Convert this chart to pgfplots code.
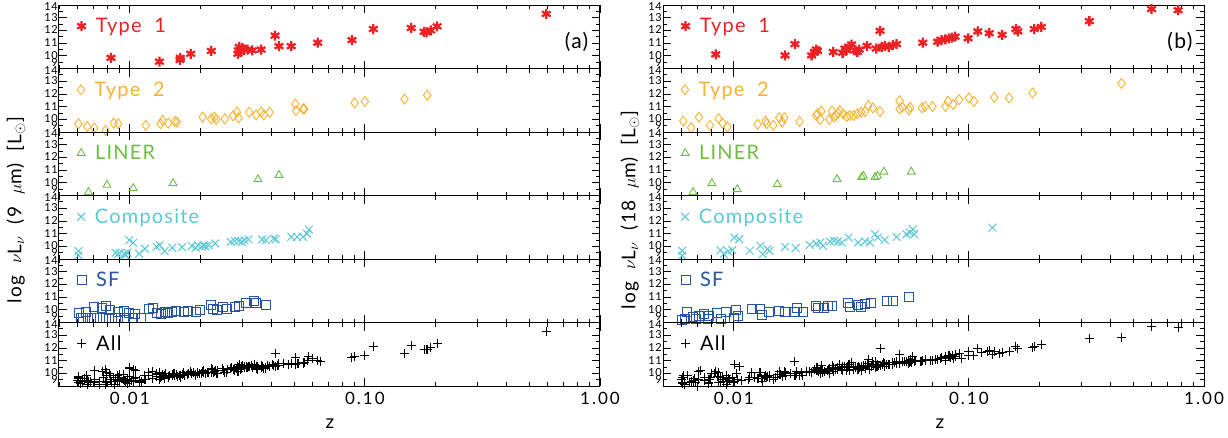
\documentclass[border=0pt]{standalone}
\usepackage{pgfplots}
\pgfplotsset{compat=1.18}
\usepackage{pgfplotstable}
\usepackage{fontspec}
\setmainfont{Lato}[LetterSpace=6]
\newfontfamily\wide{Lato}[LetterSpace=12]
\definecolor{cTa}{RGB}{237,32,36}
\definecolor{cTb}{RGB}{246,178,51}
\definecolor{cLi}{RGB}{110,190,68}
\definecolor{cCo}{RGB}{91,200,214}
\definecolor{cSF}{RGB}{40,84,166}

\pgfplotstableread{
z v
0.00832 9.84
0.01337 9.54
0.01637 9.68
0.01640 9.84
0.01816 10.16
0.02223 10.38
0.02884 10.16
0.02900 10.43
0.02920 10.70
0.02960 10.30
0.03010 10.62
0.03070 10.50
0.03170 10.49
0.03320 10.43
0.03620 10.49
0.04150 11.59
0.04310 10.76
0.04860 10.76
0.06300 11.03
0.08810 11.24
0.10860 12.11
0.15740 12.19
0.17860 11.89
0.18300 11.85
0.19050 12.00
0.20280 12.32
0.59100 13.30
}\TaA
\pgfplotstableread{
z v
0.00605 9.65
0.00659 9.44
0.00706 9.31
0.00789 9.13
0.00855 9.70
0.00893 9.65
0.01170 9.52
0.01352 9.65
0.01380 9.91
0.01459 9.70
0.01556 9.83
0.01590 9.78
0.02040 10.17
0.02220 10.04
0.02290 10.17
0.02330 9.99
0.02540 10.04
0.02750 10.28
0.02860 10.56
0.02900 10.12
0.03220 10.56
0.03450 10.35
0.03620 10.56
0.03720 10.35
0.03940 10.56
0.05060 11.21
0.05090 10.69
0.05460 10.82
0.05520 10.82
0.09040 11.29
0.10000 11.40
0.14750 11.59
0.18410 11.90
}\TbA
\pgfplotstableread{
z v
0.00667 9.26
0.00800 9.83
0.01035 9.57
0.01528 9.96
0.03510 10.27
0.04310 10.61
}\LiA
\pgfplotstableread{
z v
0.00605 9.63
0.00605 9.29
0.00871 9.49
0.00887 9.36
0.00905 9.49
0.00951 9.42
0.00977 9.49
0.00958 9.29
0.00995 10.48
0.01035 10.28
0.01096 9.42
0.01159 9.81
0.01300 9.96
0.01342 10.09
0.01406 9.63
0.01518 9.89
0.01668 9.94
0.01836 10.02
0.01907 9.89
0.01945 10.07
0.02020 9.96
0.02060 10.07
0.02099 10.02
0.02163 10.07
0.02308 10.22
0.02690 10.35
0.02798 10.41
0.02905 10.41
0.02995 10.35
0.03076 10.48
0.03196 10.54
0.03655 10.54
0.03797 10.48
0.04099 10.61
0.04178 10.54
0.04864 10.74
0.05152 10.74
0.05458 10.74
0.05675 11.00
0.05782 11.32
}\CoA
\pgfplotstableread{
z v
0.00605 9.72
0.00617 9.38
0.00653 9.85
0.00706 10.25
0.00762 10.12
0.00791 10.30
0.00822 9.98
0.00887 9.80
0.00940 9.93
0.00995 9.72
0.01054 9.64
0.01117 9.38
0.00630 9.33
0.00667 9.33
0.00706 9.33
0.00747 9.33
0.00791 9.33
0.00838 9.33
0.00887 9.33
0.00958 9.33
0.01035 9.33
0.01205 10.04
0.01254 10.12
0.01300 9.77
0.01352 9.64
0.01406 9.85
0.01460 9.72
0.01518 9.85
0.01575 9.90
0.01701 9.85
0.01767 9.93
0.01907 9.85
0.01981 9.98
0.02223 10.38
0.02265 10.04
0.02354 9.98
0.02493 10.19
0.02591 10.04
0.02798 10.25
0.02905 10.30
0.03135 10.51
0.03388 10.72
0.03453 10.56
0.03797 10.38
}\SFA
\pgfplotstableread{
z v
0.0060 9.45
0.0062 9.20
0.0064 9.60
0.0066 9.10
0.0068 9.35
0.0071 9.50
0.0074 9.15
0.0077 9.70
0.0080 9.25
0.0083 9.55
0.0086 9.10
0.0090 9.40
0.0094 9.60
0.0098 9.20
0.0102 9.45
0.0106 9.70
0.0110 9.30
0.0115 9.55
0.0120 9.80
0.0125 9.60
0.0130 9.90
0.0136 9.75
0.0142 9.95
0.0148 9.80
0.0155 10.00
0.0162 9.85
0.0170 10.05
0.0178 9.95
0.0186 10.10
0.0195 10.00
0.0205 10.20
0.0215 10.10
0.0225 10.30
0.0236 10.20
0.0248 10.35
0.0260 10.30
0.0272 10.45
0.0285 10.40
0.0300 10.55
0.0315 10.45
0.0330 10.60
0.0348 10.55
0.0365 10.65
0.0385 10.60
0.0405 10.70
0.0425 10.65
0.0450 10.75
0.0475 10.70
0.0520 10.80
0.0550 10.75
0.0600 11.20
0.0650 10.95
0.0100 10.40
0.0106 10.20
0.0080 10.10
0.0090 9.90
}\ExA
\pgfplotstableread{
z v
0.00838 10.11
0.01652 10.03
0.01820 10.92
0.02143 10.03
0.02203 10.30
0.02244 10.49
0.02270 10.38
0.02650 10.30
0.02904 10.24
0.02971 10.57
0.03017 10.43
0.03111 10.70
0.03170 10.89
0.03291 10.43
0.03355 10.30
0.03418 10.49
0.03690 10.78
0.04034 10.57
0.04188 11.97
0.04272 10.70
0.04385 10.78
0.04560 10.70
0.04741 10.84
0.04924 10.92
0.06368 11.03
0.07363 11.11
0.07654 11.24
0.07946 11.30
0.08258 11.38
0.08482 11.43
0.08741 11.51
0.09923 11.38
0.1091 11.92
0.1221 11.78
0.1385 11.65
0.1585 12.11
0.1615 11.92
0.1897 12.11
0.2032 12.27
0.3254 12.73
0.5984 13.68
0.7763 13.59
}\TaB
\pgfplotstableread{
z v
0.00610 9.86
0.00659 9.34
0.00711 10.17
0.00792 9.52
0.00862 10.04
0.00895 9.70
0.00940 9.39
0.01262 9.60
0.01365 9.86
0.01380 9.65
0.01473 9.52
0.01560 10.12
0.01607 9.78
0.01639 10.12
0.01905 9.83
0.02244 10.30
0.02270 10.43
0.02332 9.99
0.02360 10.64
0.02547 9.99
0.02618 10.64
0.02668 10.17
0.02719 10.30
0.02773 10.48
0.02825 10.69
0.02912 10.43
0.03017 10.22
0.03111 10.30
0.03230 10.30
0.03355 10.43
0.03484 10.56
0.03622 10.61
0.03735 11.08
0.03909 10.90
0.04188 10.61
0.05070 11.47
0.05070 10.82
0.05210 10.95
0.05558 10.74
0.05623 10.95
0.06310 10.90
0.06510 11.01
0.07000 11.01
0.07946 11.01
0.08160 11.42
0.08578 11.16
0.09080 11.55
0.1000 11.68
0.1051 11.40
0.1283 11.73
0.1483 11.68
0.1866 12.07
0.4457 12.83
}\TbB
\pgfplotstableread{
z v
0.00671 9.26
0.00807 9.96
0.01035 9.49
0.01531 9.88
0.02750 10.28
0.03500 10.44
0.03560 10.54
0.03990 10.44
0.04090 10.54
0.04350 10.87
0.05690 10.87
}\LiB
\pgfplotstableread{
z v
0.00603 9.65
0.00603 9.26
0.00877 9.70
0.00906 9.39
0.00948 9.60
0.00985 9.70
0.01005 10.69
0.01055 10.56
0.01169 9.65
0.01297 10.04
0.01327 9.39
0.01390 9.78
0.01416 9.65
0.01652 9.96
0.01832 9.86
0.02104 10.12
0.02244 10.22
0.02332 10.30
0.02395 10.04
0.02565 10.38
0.02668 10.43
0.02773 10.38
0.02879 10.30
0.03083 10.69
0.03380 10.30
0.03622 10.38
0.03793 10.30
0.03990 10.95
0.04093 10.69
0.04385 10.51
0.04924 10.74
0.05420 10.95
0.05623 11.08
0.05781 11.34
0.05848 10.95
0.1259 11.47
}\CoB
\pgfplotstableread{
z v
0.00603 9.20
0.00634 9.80
0.00671 9.41
0.00711 9.51
0.00748 9.67
0.00783 9.51
0.00852 9.72
0.00929 9.85
0.01022 9.98
0.01042 9.51
0.01004 9.33
0.00620 9.27
0.00690 9.27
0.00780 9.27
0.00880 9.27
0.01190 10.09
0.01288 10.04
0.01313 9.60
0.01416 9.80
0.01560 9.93
0.01652 9.85
0.01820 9.85
0.01855 10.12
0.01964 9.85
0.02244 10.30
0.02287 10.12
0.02422 10.17
0.02517 10.30
0.02618 10.33
0.03051 10.51
0.03111 10.25
0.03380 10.38
0.03484 10.25
0.03622 10.46
0.03837 10.51
0.04477 10.69
0.04741 10.72
0.05556 11.04
}\SFB
\pgfplotstableread{
z v
0.0060 9.50
0.0062 9.10
0.0065 9.30
0.0068 9.60
0.0070 9.00
0.0072 10.20
0.0075 9.40
0.0078 9.20
0.0080 9.70
0.0083 10.00
0.0086 9.30
0.0090 9.50
0.0093 9.10
0.0096 9.40
0.0100 9.25
0.0108 9.45
0.0115 9.50
0.0122 9.70
0.0128 9.60
0.0135 9.75
0.0142 9.80
0.0150 9.70
0.0158 9.90
0.0166 9.85
0.0175 10.00
0.0184 9.95
0.0194 10.05
0.0204 10.15
0.0215 10.10
0.0226 10.20
0.0238 10.30
0.0250 10.25
0.0263 10.40
0.0277 10.35
0.0291 10.50
0.0306 10.45
0.0322 10.55
0.0338 10.50
0.0356 10.60
0.0374 10.65
0.0394 10.70
0.0414 10.60
0.0436 10.75
0.0458 10.70
0.0482 10.85
0.0507 10.80
0.0533 10.90
0.0561 10.85
0.0590 11.00
0.0620 10.95
0.0652 11.05
0.0686 11.00
0.0721 11.10
0.0758 11.15
0.0797 11.20
0.0838 11.25
0.0881 11.30
0.0926 11.20
0.1130 11.60
0.1200 11.70
0.1350 11.55
}\ExB

\pgfplotsset{
  every axis/.append style={
    xmin=0.005, xmax=1, ymin=9, ymax=14,
    width=541pt, height=63.5pt, scale only axis, anchor=north west,
    xtick={0.01,0.1,1}, xticklabels={},
    minor xtick={0.005,0.006,0.007,0.008,0.009,0.02,0.03,0.04,0.05,0.06,0.07,0.08,0.09,0.2,0.3,0.4,0.5,0.6,0.7,0.8,0.9},
    ytick={9,10,11,12,13,14},
    yticklabels={\raisebox{6pt}{9},10,11,12,13,\raisebox{-2pt}{14}},
    minor ytick={9.5,10.5,11.5,12.5,13.5},
    yticklabel style={font=\fontsize{11}{11}\selectfont, text height=7pt, text depth=0pt, inner xsep=1pt},
    xticklabel style={font=\wide\fontsize{17}{17}\selectfont, yshift=-3pt},
    major tick length=8pt, minor tick length=4pt,
    tick style={black, line width=0.8pt},
    axis line style={line width=1pt},
    legend style={at={(rel axis cs:0,1)}, anchor=north west, draw=none, fill=none,
      xshift=18pt, yshift=-11pt, font=\fontsize{20}{22}\selectfont, inner sep=0pt,
      column sep=8pt},
    legend cell align=left,
  },
  sTa/.style={only marks, mark=asterisk, mark size=5pt, color=cTa, mark options={line width=2.3pt}},
  sTb/.style={only marks, mark=diamond, mark size=5pt, color=cTb, mark options={line width=0.9pt}},
  sLi/.style={only marks, mark=triangle, mark size=4.6pt, color=cLi, mark options={line width=0.9pt}},
  sCo/.style={only marks, mark=x, mark size=5.5pt, color=cCo, mark options={line width=1pt}},
  sSF/.style={only marks, mark=square, mark size=4.5pt, color=cSF, mark options={line width=0.9pt}},
  sAl/.style={only marks, mark=+, mark size=4.5pt, color=black, mark options={line width=1pt}},
}

\begin{document}
\begin{tikzpicture}
\path[use as bounding box] (0pt,0pt) rectangle (1228pt,-437pt);

\begin{semilogxaxis}[at={(59pt,-5pt)}]
\addplot[sTa] table {\TaA};
\addlegendentry{\textcolor{cTa}{Type\ \ 1}}
\node[anchor=east, font=\fontsize{21}{21}\selectfont] at (rel axis cs:0.985,0.42) {(a)};
\end{semilogxaxis}
\begin{semilogxaxis}[at={(59pt,-68.5pt)}]
\addplot[sTb] table {\TbA};
\addlegendentry{\textcolor{cTb}{Type\ \ 2}}
\end{semilogxaxis}
\begin{semilogxaxis}[at={(59pt,-132pt)}]
\addplot[sLi] table {\LiA};
\addlegendentry{\textcolor{cLi}{LINER}}
\end{semilogxaxis}
\begin{semilogxaxis}[at={(59pt,-195.5pt)}]
\addplot[sCo] table {\CoA};
\addlegendentry{\textcolor{cCo}{Composite}}
\end{semilogxaxis}
\begin{semilogxaxis}[at={(59pt,-259pt)}]
\addplot[sSF] table {\SFA};
\addlegendentry{\textcolor{cSF}{SF}}
\end{semilogxaxis}
\begin{semilogxaxis}[xticklabels={0.01,0.10,1.00}, at={(59pt,-322.5pt)}]
\addplot[sAl] table {\TaA};
\addlegendentry{All}
\addplot[sAl, forget plot] table {\TbA};
\addplot[sAl, forget plot] table {\LiA};
\addplot[sAl, forget plot] table {\CoA};
\addplot[sAl, forget plot] table {\SFA};
\addplot[sAl, forget plot] table {\ExA};
\end{semilogxaxis}

\begin{semilogxaxis}[at={(663pt,-5pt)}]
\addplot[sTa] table {\TaB};
\addlegendentry{\textcolor{cTa}{Type\ \ 1}}
\node[anchor=east, font=\fontsize{21}{21}\selectfont] at (rel axis cs:0.985,0.42) {(b)};
\end{semilogxaxis}
\begin{semilogxaxis}[at={(663pt,-68.5pt)}]
\addplot[sTb] table {\TbB};
\addlegendentry{\textcolor{cTb}{Type\ \ 2}}
\end{semilogxaxis}
\begin{semilogxaxis}[at={(663pt,-132pt)}]
\addplot[sLi] table {\LiB};
\addlegendentry{\textcolor{cLi}{LINER}}
\end{semilogxaxis}
\begin{semilogxaxis}[at={(663pt,-195.5pt)}]
\addplot[sCo] table {\CoB};
\addlegendentry{\textcolor{cCo}{Composite}}
\end{semilogxaxis}
\begin{semilogxaxis}[at={(663pt,-259pt)}]
\addplot[sSF] table {\SFB};
\addlegendentry{\textcolor{cSF}{SF}}
\end{semilogxaxis}
\begin{semilogxaxis}[xticklabels={0.01,0.10,1.00}, at={(663pt,-322.5pt)}]
\addplot[sAl] table {\TaB};
\addlegendentry{All}
\addplot[sAl, forget plot] table {\TbB};
\addplot[sAl, forget plot] table {\LiB};
\addplot[sAl, forget plot] table {\CoB};
\addplot[sAl, forget plot] table {\SFB};
\addplot[sAl, forget plot] table {\ExB};
\end{semilogxaxis}

\node[rotate=90, font=\fontsize{19}{19}\selectfont] at (16pt,-210pt)
  {log\ \ $\nu$L$_\nu$\ \ (9\ \ $\mu$m)\ \ [L$_\odot$]};
\node[rotate=90, font=\fontsize{19}{19}\selectfont] at (630pt,-210pt)
  {log\ \ $\nu$L$_\nu$\ \ (18\ \ $\mu$m)\ \ [L$_\odot$]};
\node[font=\fontsize{19}{19}\selectfont] at (330pt,-424pt) {z};
\node[font=\fontsize{19}{19}\selectfont] at (940pt,-424pt) {z};
\end{tikzpicture}
\end{document}
